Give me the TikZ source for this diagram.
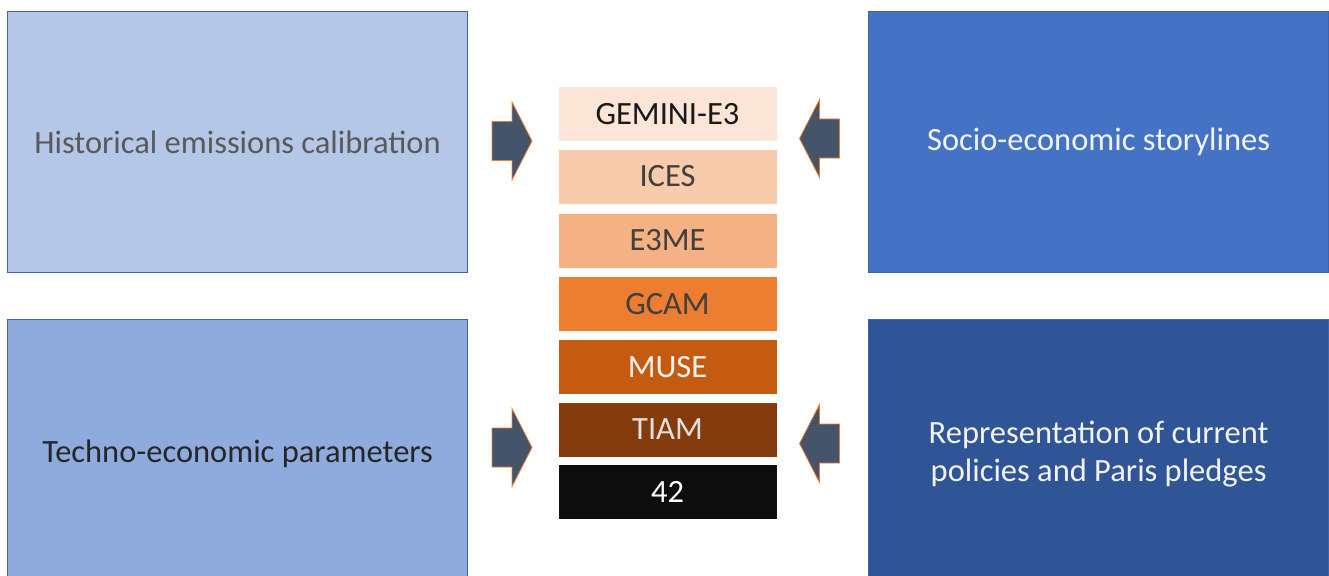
\documentclass[tikz,border=0pt]{standalone}
\usepackage{fontspec}
\setmainfont{Carlito}
\definecolor{histfill}{HTML}{B4C7E7}
\definecolor{technofill}{HTML}{8FAADC}
\definecolor{sociofill}{HTML}{4472C4}
\definecolor{policyfill}{HTML}{2F5597}
\definecolor{panelline}{HTML}{3F64A8}
\definecolor{arrowfill}{HTML}{44546A}
\definecolor{arrowline}{HTML}{ED7D31}
\definecolor{mA}{HTML}{FBE5D6}
\definecolor{mB}{HTML}{F8CBAD}
\definecolor{mC}{HTML}{F4B183}
\definecolor{mD}{HTML}{ED7D31}
\definecolor{mE}{HTML}{C55A11}
\definecolor{mF}{HTML}{843C0C}
\definecolor{mG}{HTML}{0D0D0D}
\definecolor{darktext}{HTML}{404040}
\definecolor{greytext}{HTML}{595959}
\definecolor{lighttext}{HTML}{F2F2F2}
\begin{document}
\begin{tikzpicture}[x=1pt,y=-1pt,
  bigfont/.style={font=\fontsize{32.5}{38}\selectfont},
  panel/.style={draw=panelline, line width=1.2pt, anchor=north west,
    minimum width=460pt, minimum height=262pt, inner sep=0pt,
    align=center, bigfont},
  model/.style={draw=white, line width=0.8pt, minimum width=219pt,
    minimum height=55pt, inner sep=0pt, bigfont},
  arrowshape/.style={fill=arrowfill, draw=arrowline, line width=0.8pt,
    line join=miter},
  blockarrow/.pic={\path[arrowshape] (-20,-19.5) -- (0,-19.5) -- (0,-39)
    -- (20,0) -- (0,39) -- (0,19.5) -- (-20,19.5) -- cycle;}]
\useasboundingbox (0,0) rectangle (1329,575);
\begin{scope}
\clip (0,0) rectangle (1329,575);
% four input panels
\node[panel, fill=histfill, text=greytext, minimum height=261pt] (hist) at (7,11)
  {Historical emissions calibration};
\node[panel, fill=technofill, text=black!85, minimum height=268pt] (techno) at (7,319)
  {Techno-economic parameters};
\node[panel, fill=sociofill, text=lighttext, minimum height=261pt] (socio) at (868,11)
  {Socio-economic storylines};
\node[panel, fill=policyfill, text=lighttext, minimum height=268pt] (policy) at (868,319)
  {Representation of current\\policies and Paris pledges};
\end{scope}
% stack of models
\node[model, fill=mA, text=black!90] (gemini) at (667.5,114) {GEMINI-E3};
\node[model, fill=mB, text=darktext] (ices) at (667.5,176.5) {ICES};
\node[model, fill=mC, text=darktext] (e3me) at (667.5,240.5) {E3ME};
\node[model, fill=mD, text=darktext] (gcam) at (667.5,304) {GCAM};
\node[model, fill=mE, text=lighttext] (muse) at (667.5,367) {MUSE};
\node[model, fill=mF, text=black!12] (tiam) at (667.5,429.5) {TIAM};
\node[model, fill=mG, text=white] (fortytwo) at (667.5,492) {42};
% block arrows feeding the stack
\pic at (512,141) {blockarrow};
\pic at (512,447.5) {blockarrow};
\pic[xscale=-1] at (819.5,138.5) {blockarrow};
\pic[xscale=-1] at (819.5,443.5) {blockarrow};
\end{tikzpicture}
\end{document}
